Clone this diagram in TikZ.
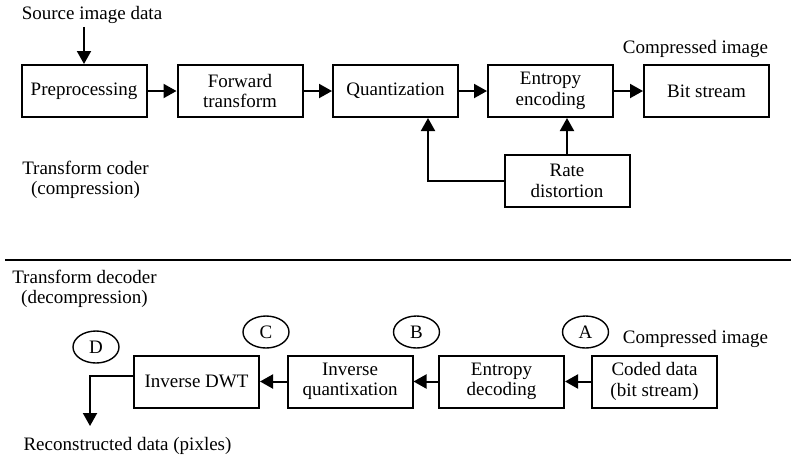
\documentclass[tikz,border=0pt]{standalone}
\usepackage{fontspec}
\setmainfont{Liberation Serif}
\usepackage{tikz}
\usetikzlibrary{arrows.meta}
\usetikzlibrary{shapes.geometric}
\usetikzlibrary{positioning}
\tikzset{
  blk/.style={draw=black, line width=2pt, minimum width=125pt, minimum height=52pt, align=center, inner sep=1pt},
  tag/.style={draw=black, ellipse, line width=1.4pt, minimum width=46pt, minimum height=32pt, inner sep=0pt},
  lbl/.style={align=center, inner sep=3pt},
  flow/.style={black, line width=2pt, -{Triangle[length=13pt,width=14pt]}}
}

\begin{document}
\begin{tikzpicture}[x=1pt, y=-1pt, font=\fontsize{19}{20.5}\selectfont]
    \useasboundingbox (0,0) rectangle (791,459);
    % coder
    \node[lbl] (src) at (92,15) {Source image data};
    \node[blk] (pre) at (84,91) {Preprocessing};
    \node[blk] (fwd) at (240,91) {Forward\\transform};
    \node[blk] (quant) at (395.5,91) {Quantization};
    \node[blk] (ent) at (550.5,91) {Entropy\\encoding};
    \node[blk] (bit) at (706.5,91) {Bit stream};
    \node[blk] (rate) at (567,181) {Rate\\distortion};
    \node[lbl] (cmp) at (695.5,49) {Compressed image};
    \node[lbl] (coder) at (85.5,180) {Transform coder\\(compression)};
    \draw[flow] (src.south -| pre.north) -- (pre.north);
    \draw[flow] (pre) -- (fwd);
    \draw[flow] (fwd) -- (quant);
    \draw[flow] (quant) -- (ent);
    \draw[flow] (ent) -- (bit);
    \draw[flow] (rate.west) -| ([xshift=32.5pt]quant.south);
    \draw[flow] (rate.north) -- (rate.north |- ent.south);
    % separator
    \coordinate (sepl) at (5,260);
    \coordinate (sepr) at (791,260);
    \draw[black, line width=1.8pt] (sepl) -- (sepr);
    % decoder
    \node[lbl] (decoder) at (84.5,289) {Transform decoder\\(decompression)};
    \node[blk] (idwt) at (196.5,381.5) {Inverse DWT};
    \node[blk] (iq) at (350,381.5) {Inverse\\quantixation};
    \node[blk] (ed) at (501.5,381.5) {Entropy\\decoding};
    \node[blk] (cd) at (654.5,381.5) {Coded data\\(bit stream)};
    \node[tag] (D) at (96,347) {D};
    \node[tag] (C) at (266,332) {C};
    \node[tag] (B) at (416.5,332) {B};
    \node[tag] (A) at (585.5,332) {A};
    \node[lbl] (cmpin) at (695.5,339) {Compressed image};
    \node[lbl] (rec) at (127.5,446) {Reconstructed data (pixles)};
    \coordinate (out) at (90,426);
    \draw[flow] (cd) -- (ed);
    \draw[flow] (ed) -- (iq);
    \draw[flow] (iq) -- (idwt);
    \draw[flow] ([yshift=5.5pt]idwt.west) -| (out);
\end{tikzpicture}
\end{document}
